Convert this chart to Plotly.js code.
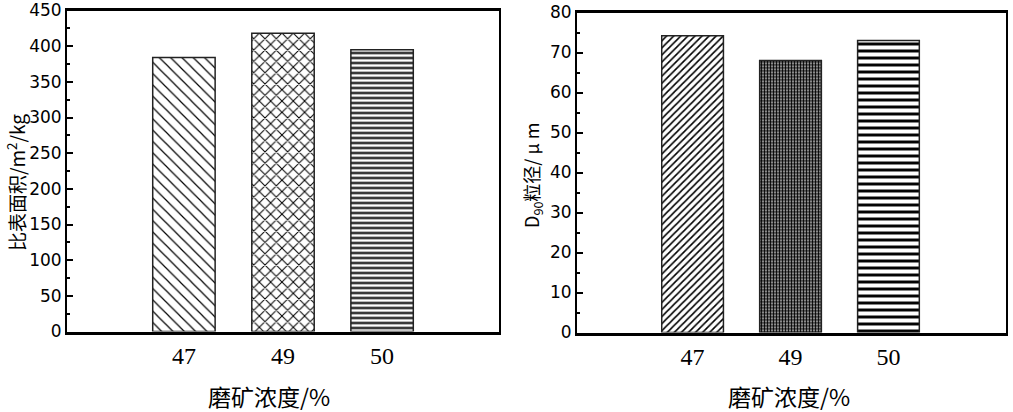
<!DOCTYPE html>
<html>
<head>
<meta charset="utf-8">
<script src="https://cdn.plot.ly/plotly-3.0.1.min.js"></script>
<style>html,body{margin:0;padding:0;background:#fff;}#chart{width:1013px;height:412px;}</style>
</head>
<body>
<div id="chart"></div>
<script>
// Data
const categories = ["47", "49", "50"];
const specificSurface = [384, 418, 395];   // 比表面积 m²/kg
const d90Size = [74.2, 68.0, 73.0];         // D90 粒径 μm
const xTitle = "磨矿浓度/%";
const yTitleLeft = "比表面积/m<sup>2</sup>/kg";
const yTitleRight = "D<sub>90</sub>粒径/ μ m";

const leftPatterns = {shape: ["\\", "x", "-"], size: [8, 8, 5], solidity: [0.15, 0.24, 0.42]};
const rightPatterns = {shape: ["/", ".", "-"], size: [5, 3, 7], solidity: [0.32, 0.7, 0.42]};

const traces = [
  {
    type: "bar", x: categories, y: specificSurface, xaxis: "x", yaxis: "y",
    width: 0.63,
    marker: {color: "#ffffff", line: {color: "#222", width: 1.5},
      pattern: {shape: leftPatterns.shape, size: leftPatterns.size, solidity: leftPatterns.solidity, fgcolor: "#000", bgcolor: "#fff", fillmode: "replace"}},
    hoverinfo: "x+y"
  },
  {
    type: "bar", x: categories, y: d90Size, xaxis: "x2", yaxis: "y2",
    width: 0.63,
    marker: {color: "#ffffff", line: {color: "#222", width: 1.5},
      pattern: {shape: rightPatterns.shape, size: rightPatterns.size, solidity: rightPatterns.solidity, fgcolor: "#000", bgcolor: "#fff", fillmode: "replace"}},
    hoverinfo: "x+y"
  }
];

const W = 1013, H = 412;
const xAxisCommon = {
  type: "category", range: [-1.18, 3.18], showline: true, linewidth: 3, linecolor: "#000",
  mirror: true, ticks: "", showgrid: false, zeroline: false, fixedrange: true,
  tickfont: {family: "Liberation Serif, Times New Roman, serif", size: 24, color: "#000"},
  ticklabelstandoff: 1
};
const yAxisCommon = {
  showline: true, linewidth: 2, linecolor: "#000", mirror: true,
  ticks: "inside", ticklen: 6, tickwidth: 2, tickcolor: "#000",
  showgrid: false, zeroline: false, fixedrange: true,
  tickfont: {family: "DejaVu Sans, Arial, sans-serif", size: 17, color: "#000"},
  minor: {ticks: "inside", ticklen: 3, tickwidth: 2, tickcolor: "#000", showgrid: false}
};

const layout = {
  width: W, height: H,
  margin: {l: 0, r: 0, t: 0, b: 0},
  paper_bgcolor: "#fff", plot_bgcolor: "#fff",
  showlegend: false,
  xaxis: Object.assign({}, xAxisCommon, {domain: [67 / W, 499 / W], anchor: "y"}),
  xaxis2: Object.assign({}, xAxisCommon, {domain: [577 / W, 1006 / W], anchor: "y2", range: [-1.18, 3.2]}),
  yaxis: Object.assign({}, yAxisCommon, {domain: [(H - 331.5) / H, (H - 10.5) / H], anchor: "x",
    range: [0, 450], dtick: 50, tick0: 0, minor: Object.assign({}, yAxisCommon.minor, {dtick: 25})}),
  yaxis2: Object.assign({}, yAxisCommon, {domain: [(H - 332.5) / H, (H - 12.5) / H], anchor: "x2",
    range: [0, 80], dtick: 10, tick0: 0, minor: Object.assign({}, yAxisCommon.minor, {dtick: 5})}),
  annotations: [
    {text: xTitle, xref: "paper", yref: "paper", x: 268.5 / W, y: (H - 396) / H, showarrow: false,
      xanchor: "center", yanchor: "middle", font: {family: "Noto Sans CJK SC, sans-serif", size: 23, color: "#000"}},
    {text: xTitle, xref: "paper", yref: "paper", x: 788.5 / W, y: (H - 396) / H, showarrow: false,
      xanchor: "center", yanchor: "middle", font: {family: "Noto Sans CJK SC, sans-serif", size: 23, color: "#000"}},
    {text: yTitleLeft, xref: "paper", yref: "paper", x: 16 / W, y: (H - 183) / H, showarrow: false, textangle: -90,
      xanchor: "center", yanchor: "middle", font: {family: "Noto Sans CJK SC, sans-serif", size: 19, color: "#000"}},
    {text: yTitleRight, xref: "paper", yref: "paper", x: 532 / W, y: (H - 176) / H, showarrow: false, textangle: -90,
      xanchor: "center", yanchor: "middle", font: {family: "Noto Sans CJK SC, sans-serif", size: 18, color: "#000"}}
  ]
};

Plotly.newPlot("chart", traces, layout, {displayModeBar: false, staticPlot: true});
</script>
</body>
</html>
